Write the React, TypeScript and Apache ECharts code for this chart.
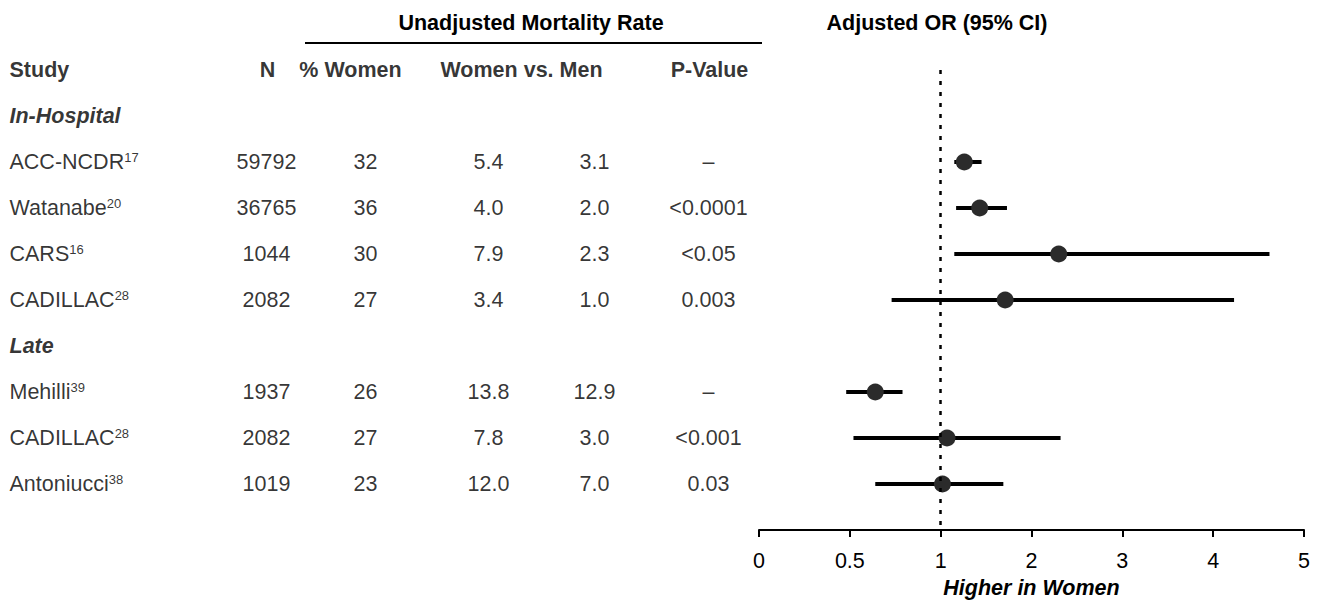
import React, { useEffect, useRef } from "react";
import * as echarts from "echarts";

// ---------- data ----------
const groupNames = ["In-Hospital", "Late"];
const groupSizes = [4, 3];
const studyNames = ["ACC-NCDR", "Watanabe", "CARS", "CADILLAC", "Mehilli", "CADILLAC", "Antoniucci"];
const studyRefs = ["17", "20", "16", "28", "39", "28", "38"];
const nValues = ["59792", "36765", "1044", "2082", "1937", "2082", "1019"];
const pctWomen = ["32", "36", "30", "27", "26", "27", "23"];
const rateWomen = ["5.4", "4.0", "7.9", "3.4", "13.8", "7.8", "12.0"];
const rateMen = ["3.1", "2.0", "2.3", "1.0", "12.9", "3.0", "7.0"];
const pValues = ["–", "<0.0001", "<0.05", "0.003", "–", "<0.001", "0.03"];
const orValues = [1.26, 1.43, 2.3, 1.71, 0.64, 1.07, 1.02];
const ciLower = [1.15, 1.17, 1.15, 0.73, 0.48, 0.52, 0.64];
const ciUpper = [1.45, 1.73, 4.62, 4.23, 0.79, 2.32, 1.69];
const tickLabels = ["0", "0.5", "1", "2", "3", "4", "5"];
const columnHeaders = ["Study", "N", "% Women", "Women vs. Men", "P-Value"];
const tableTitle = "Unadjusted Mortality Rate";
const plotTitle = "Adjusted OR (95% CI)";
const axisName = "Higher in Women";

// ---------- layout ----------
const FONT = '"Liberation Sans", Arial, Helvetica, sans-serif';
const FS = 21.5;
const INK = "#000";
const headerX = [10, 268, 351, 522, 710];
const headerAlign = ["left", "center", "center", "center", "center"];
const colX = { study: 10, n: 267, pct: 366, women: 489, men: 595, p: 709 };

// piecewise OR scale: 0..1 stretched (0.5 per unit), above 1 one per unit
function toAxis(v: number) {
  return v <= 1 ? v * 2 : v + 1;
}

export default function App() {
  const ref = useRef<HTMLDivElement>(null);
  useEffect(() => {
    const chart = echarts.init(ref.current!, null, { renderer: "svg" });

    const studyRows: number[] = [];
    const groupRows: number[] = [];
    let row = 1;
    groupSizes.forEach((size) => {
      groupRows.push(row);
      row++;
      for (let k = 0; k < size; k++) {
        studyRows.push(row);
        row++;
      }
    });

    const tableItems: any[] = [];
    const cell = (x: number, r: number, text: string, align: string, extra: any = {}) => {
      tableItems.push({
        value: [x, r],
        name: text,
        label: { align, verticalAlign: "middle", ...extra },
      });
    };
    columnHeaders.forEach((h, i) => cell(headerX[i], 0, h, headerAlign[i], { fontWeight: "bold" }));
    groupNames.forEach((g, i) =>
      cell(colX.study, groupRows[i], g, "left", { fontWeight: "bold", fontStyle: "italic" })
    );
    studyNames.forEach((name, i) => {
      const r = studyRows[i];
      cell(colX.study, r, `{a|${name}}{s|${studyRefs[i]}}`, "left");
      cell(colX.n, r, nValues[i], "center");
      cell(colX.pct, r, pctWomen[i], "center");
      cell(colX.women, r, rateWomen[i], "center");
      cell(colX.men, r, rateMen[i], "center");
      cell(colX.p, r, pValues[i], "center");
    });

    const ciData = studyNames.map((_, i) => [toAxis(ciLower[i]), toAxis(ciUpper[i]), studyRows[i]]);
    const ptData = studyNames.map((_, i) => [toAxis(orValues[i]), studyRows[i]]);

    const option: any = {
      animation: false,
      grid: [
        { left: 0, top: 70, width: 759, height: 460 },
        { left: 759, top: 70, width: 545, height: 460 },
      ],
      xAxis: [
        { gridIndex: 0, type: "value", min: 0, max: 759, show: false },
        {
          gridIndex: 1,
          type: "value",
          min: 0,
          max: 6,
          interval: 1,
          position: "bottom",
          axisLine: { show: true, onZero: false, lineStyle: { color: INK, width: 2 } },
          axisTick: { show: true, length: 7, lineStyle: { color: INK, width: 2 } },
          splitLine: { show: false },
          axisLabel: {
            formatter: (v: number) => tickLabels[Math.round(v)] ?? "",
            fontSize: FS,
            color: INK,
            fontFamily: FONT,
            margin: 20,
          },
          name: axisName,
          nameLocation: "middle",
          nameGap: 46,
          nameTextStyle: { fontSize: FS, fontWeight: "bold", fontStyle: "italic", color: INK, fontFamily: FONT },
        },
      ],
      yAxis: [
        { gridIndex: 0, type: "value", min: 0, max: 10, inverse: true, show: false },
        { gridIndex: 1, type: "value", min: 0, max: 10, inverse: true, show: false },
      ],
      graphic: [
        {
          type: "text",
          x: 531,
          y: 23,
          style: {
            text: tableTitle,
            fill: INK,
            fontSize: FS,
            fontWeight: "bold",
            fontFamily: FONT,
            align: "center",
            verticalAlign: "middle",
          },
        },
        {
          type: "text",
          x: 937,
          y: 23,
          style: {
            text: plotTitle,
            fill: INK,
            fontSize: FS,
            fontWeight: "bold",
            fontFamily: FONT,
            align: "center",
            verticalAlign: "middle",
          },
        },
        {
          type: "line",
          shape: { x1: 305, y1: 43, x2: 762, y2: 43 },
          style: { stroke: INK, lineWidth: 2 },
        },
      ],
      series: [
        {
          type: "scatter",
          xAxisIndex: 0,
          yAxisIndex: 0,
          symbolSize: 1,
          silent: true,
          itemStyle: { color: "rgba(0,0,0,0)" },
          data: tableItems,
          label: {
            show: true,
            position: [0, 0],
            formatter: "{b}",
            fontSize: FS,
            color: INK,
            fontFamily: FONT,
            rich: {
              a: { fontSize: FS, color: INK, fontFamily: FONT, lineHeight: 26 },
              s: { fontSize: 13, color: INK, fontFamily: FONT, lineHeight: 26, verticalAlign: "top", padding: [2, 0, 0, 0] },
            },
          },
        },
        {
          type: "custom",
          xAxisIndex: 1,
          yAxisIndex: 1,
          silent: true,
          z: 2,
          encode: { x: [0, 1], y: 2 },
          data: ciData,
          renderItem: (params: any, api: any) => {
            const a = api.coord([api.value(0), api.value(2)]);
            const b = api.coord([api.value(1), api.value(2)]);
            return {
              type: "line",
              shape: { x1: a[0], y1: a[1], x2: b[0], y2: b[1] },
              style: { stroke: INK, lineWidth: 4 },
            };
          },
          markLine: {
            silent: true,
            symbol: ["none", "none"],
            label: { show: false },
            lineStyle: { color: INK, width: 2.5, type: [4, 7] },
            data: [{ xAxis: toAxis(1) }],
          },
        },
        {
          type: "scatter",
          xAxisIndex: 1,
          yAxisIndex: 1,
          silent: true,
          z: 3,
          symbolSize: 17,
          itemStyle: { color: "#2b2b2b", opacity: 1 },
          data: ptData,
        },
      ],
    };
    chart.setOption(option);
    return () => chart.dispose();
  }, []);
  return (
    <div
      ref={ref}
      style={{ position: "absolute", left: 0, top: 0, width: 1319, height: 607, background: "#fff" }}
    />
  );
}
